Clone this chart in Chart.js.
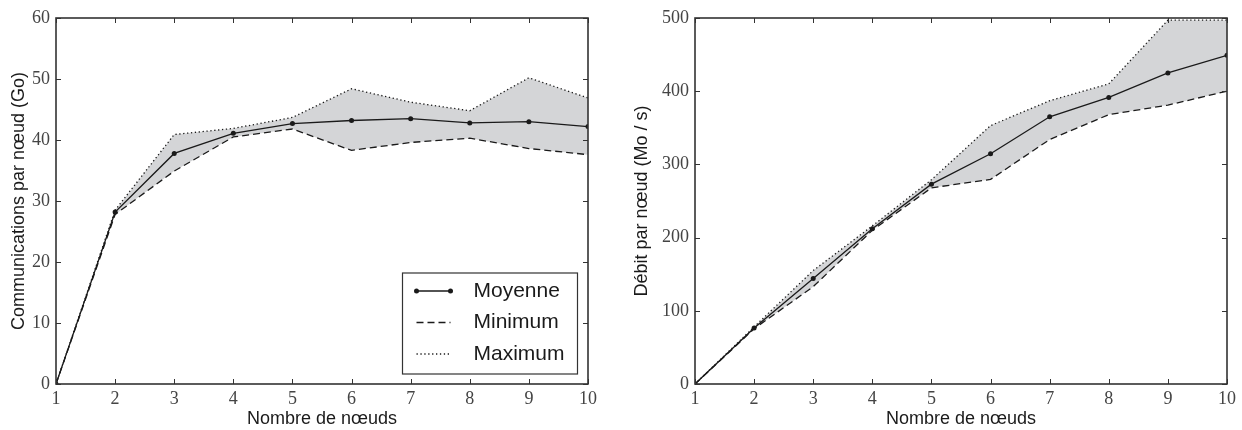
<!DOCTYPE html>
<html>
<head>
<meta charset="utf-8">
<script src="https://cdn.jsdelivr.net/npm/chart.js@4.4.0/dist/chart.umd.min.js"></script>
<style>
  body { margin: 0; background: #fff; }
  #wrap { display: flex; width: 1242px; height: 430px; }
  canvas { display: block; }
</style>
</head>
<body>
<div id="wrap">
  <canvas id="commChart" width="621" height="430"></canvas>
  <canvas id="debitChart" width="621" height="430"></canvas>
</div>
<script>
// nombre de noeuds
const nodes = [1, 2, 3, 4, 5, 6, 7, 8, 9, 10];

// communications par noeud (Go)
const commMoyenne = [0, 28.2, 37.8, 41.1, 42.7, 43.2, 43.5, 42.8, 43.0, 42.2];
const commMin     = [0, 27.8, 34.9, 40.5, 41.8, 38.3, 39.6, 40.3, 38.6, 37.6];
const commMax     = [0, 28.5, 40.9, 41.9, 43.7, 48.4, 46.2, 44.8, 50.2, 46.9];

// debit par noeud (Mo / s)
const debitMoyenne = [0, 76.5, 144, 212, 273, 314.5, 365, 391.5, 425, 449];
const debitMin     = [0, 75.5, 133, 210, 268, 279.5, 334, 368, 381, 400];
const debitMax     = [0, 78, 155, 216, 279, 353, 387, 410, 497, 497];

const serieLabels = ['Moyenne', 'Minimum', 'Maximum'];

const INK = '#1a1a1a';
const AXIS = '#333333';
const BAND = '#d4d5d7';
const SERIF = "'Liberation Serif', 'Times New Roman', serif";
const SANS = "'Liberation Sans', Arial, sans-serif";

function pts(values) {
    return nodes.map((n, i) => ({ x: n, y: values[i] }));
}

// cadre + graduations vers l'interieur sur les 4 cotes
const framePlugin = {
    id: 'frame',
    afterDatasetsDraw(chart) {
        const ctx = chart.ctx;
        const a = chart.chartArea;
        const xs = chart.scales.x, ys = chart.scales.y;
        const len = 5;
        ctx.save();
        ctx.strokeStyle = AXIS;
        ctx.lineWidth = 1;
        ctx.beginPath();
        xs.ticks.forEach(t => {
            const px = Math.round(xs.getPixelForValue(t.value)) + 0.5;
            ctx.moveTo(px, a.bottom); ctx.lineTo(px, a.bottom - len);
            ctx.moveTo(px, a.top); ctx.lineTo(px, a.top + len);
        });
        ys.ticks.forEach(t => {
            const py = Math.round(ys.getPixelForValue(t.value)) + 0.5;
            ctx.moveTo(a.left, py); ctx.lineTo(a.left + len, py);
            ctx.moveTo(a.right, py); ctx.lineTo(a.right - len, py);
        });
        ctx.stroke();
        ctx.lineWidth = 1.6;
        ctx.strokeRect(a.left, a.top, a.right - a.left, a.bottom - a.top);
        ctx.restore();
    }
};

// legende dans le coin bas droit du graphe
const boxLegend = {
    id: 'boxLegend',
    afterDraw(chart, args, opts) {
        if (!opts.show) return;
        const ctx = chart.ctx;
        const a = chart.chartArea;
        const bx = a.right - 185.5, by = a.bottom - 111;
        const bw = 175, bh = 101;
        ctx.save();
        ctx.fillStyle = '#fff';
        ctx.fillRect(bx, by, bw, bh);
        ctx.strokeStyle = AXIS;
        ctx.lineWidth = 1.2;
        ctx.strokeRect(bx, by, bw, bh);
        ctx.font = '21px ' + SANS;
        ctx.textBaseline = 'middle';
        chart.data.datasets.forEach((ds, k) => {
            const y = by + 18 + k * 31.5;
            const x0 = bx + 14, x1 = bx + 48;
            ctx.strokeStyle = ds.borderColor;
            ctx.lineWidth = ds.borderWidth;
            ctx.setLineDash(ds.borderDash || []);
            ctx.beginPath();
            ctx.moveTo(x0, y); ctx.lineTo(x1, y);
            ctx.stroke();
            ctx.setLineDash([]);
            if (ds.pointRadius > 0) {
                ctx.fillStyle = INK;
                [x0, x1].forEach(px => {
                    ctx.beginPath();
                    ctx.arc(px, y, 2.5, 0, Math.PI * 2);
                    ctx.fill();
                });
            }
            ctx.fillStyle = INK;
            ctx.fillText(ds.label, bx + 71, y);
        });
        ctx.restore();
    }
};

function createChart(id, moy, min, max, yMax, yStep, yTitle, axisWidth, padRight, titlePad, legend) {
    const ctx = document.getElementById(id).getContext('2d');
    return new Chart(ctx, {
        type: 'line',
        data: {
            datasets: [{
                label: serieLabels[0],
                data: pts(moy),
                borderColor: INK,
                borderWidth: 1.3,
                pointRadius: 2.5,
                pointBackgroundColor: INK,
                pointBorderWidth: 0,
                fill: false,
                tension: 0
            }, {
                label: serieLabels[1],
                data: pts(min),
                borderColor: INK,
                borderWidth: 1.3,
                borderDash: [7, 4],
                pointRadius: 0,
                fill: false,
                tension: 0
            }, {
                label: serieLabels[2],
                data: pts(max),
                borderColor: INK,
                borderWidth: 1.3,
                borderDash: [1.3, 2.6],
                pointRadius: 0,
                backgroundColor: BAND,
                fill: '-1',
                tension: 0
            }]
        },
        options: {
            responsive: false,
            animation: false,
            devicePixelRatio: 1,
            layout: { padding: { top: 18, right: padRight, left: 0, bottom: 0 } },
            plugins: {
                legend: { display: false },
                tooltip: { enabled: false },
                filler: { drawTime: 'beforeDatasetsDraw' },
                boxLegend: { show: legend }
            },
            scales: {
                x: {
                    type: 'linear',
                    min: 1,
                    max: 10,
                    grid: { display: false, drawTicks: false },
                    border: { display: false },
                    ticks: {
                        stepSize: 1,
                        padding: 4,
                        color: '#444',
                        font: { family: SERIF, size: 18 },
                        maxRotation: 0
                    },
                    title: {
                        display: true,
                        text: 'Nombre de nœuds',
                        color: INK,
                        font: { family: SANS, size: 18 },
                        padding: { top: 0, bottom: 0 }
                    },
                    afterFit: s => { s.height = 46; }
                },
                y: {
                    min: 0,
                    max: yMax,
                    grid: { display: false, drawTicks: false },
                    border: { display: false },
                    ticks: {
                        stepSize: yStep,
                        padding: 6,
                        color: '#444',
                        font: { family: SERIF, size: 18 }
                    },
                    title: {
                        display: true,
                        text: yTitle,
                        color: INK,
                        font: { family: SANS, size: 18 },
                        padding: { top: titlePad, bottom: 0 }
                    },
                    afterFit: s => { s.width = axisWidth; }
                }
            }
        },
        plugins: [framePlugin, boxLegend]
    });
}

createChart('commChart', commMoyenne, commMin, commMax, 60, 10,
    'Communications par nœud (Go)', 56, 33, 8, true);
createChart('debitChart', debitMoyenne, debitMin, debitMax, 500, 100,
    'Débit par nœud (Mo / s)', 74, 15, 10, false);
</script>
</body>
</html>
